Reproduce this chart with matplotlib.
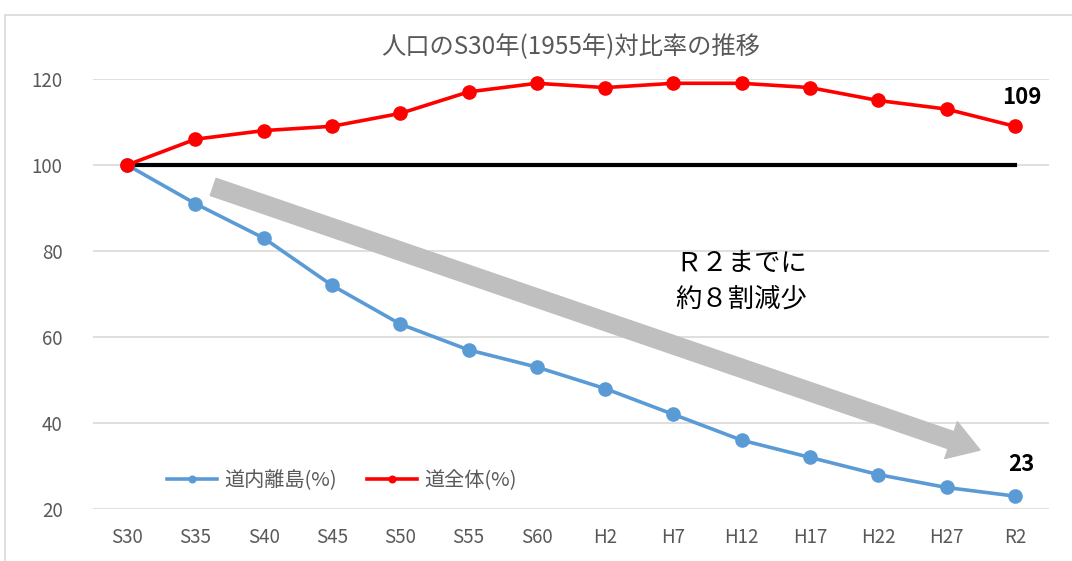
import matplotlib
matplotlib.use("Agg")
import matplotlib.pyplot as plt
from matplotlib.patches import Rectangle

plt.rcParams["font.family"] = ["Liberation Sans Narrow", "Noto Sans CJK JP", "DejaVu Sans"]

CATEGORIES = ["S30", "S35", "S40", "S45", "S50", "S55", "S60",
              "H2", "H7", "H12", "H17", "H22", "H27", "R2"]
ISLANDS = [100, 91, 83, 72, 63, 57, 53, 48, 42, 36, 32, 28, 25, 23]
HOKKAIDO = [100, 106, 108, 109, 112, 117, 119, 118, 119, 119, 118, 115, 113, 109]
BASELINE = 100
Y_TICKS = [20, 40, 60, 80, 100, 120]

TITLE = "人口のS30年(1955年)対比率の推移"
LABEL_ISLANDS = "道内離島(%)"
LABEL_HOKKAIDO = "道全体(%)"
NOTE = "Ｒ２までに\n約８割減少"
ARROW_FROM = (1.26, 94.9)
ARROW_TO = (12.49, 33.7)

BLUE = "#5B9BD5"
RED = "#FF0000"
GRID = "#D9D9D9"
TEXT = "#595959"
CJK = ["Noto Sans CJK JP", "DejaVu Sans"]

fig = plt.figure(figsize=(10.72, 5.61), dpi=100)
ax = fig.add_axes([0.0868, 0.0927, 0.8917, 0.7665])

# chart frame
fig.patches.append(Rectangle((0.005, -0.05), 1.2, 1.023, transform=fig.transFigure,
                             fill=False, edgecolor="#D9D9D9", linewidth=1.2))

x = list(range(len(CATEGORIES)))

ax.annotate("", xy=ARROW_TO, xytext=ARROW_FROM,
            arrowprops=dict(arrowstyle="simple,head_length=1.1,head_width=1.4,tail_width=0.65",
                            mutation_scale=20, color="#BFBFBF", shrinkA=0, shrinkB=0),
            zorder=2)

ax.plot([x[0], x[-1]], [BASELINE, BASELINE], color="black", linewidth=3, zorder=3)
ax.plot(x, ISLANDS, color=BLUE, linewidth=2.6, marker="o", markersize=9.5,
        label=LABEL_ISLANDS, zorder=4, clip_on=False)
ax.plot(x, HOKKAIDO, color=RED, linewidth=2.6, marker="o", markersize=9.5,
        label=LABEL_HOKKAIDO, zorder=5, clip_on=False)

ax.text(x[-1] + 0.1, HOKKAIDO[-1] + 4.0, str(HOKKAIDO[-1]), ha="center", va="bottom",
        fontsize=16, fontweight="bold", color="black")
ax.text(x[-1] + 0.1, ISLANDS[-1] + 4.6, str(ISLANDS[-1]), ha="center", va="bottom",
        fontsize=16, fontweight="bold", color="black")

ax.text(9.0, 73, NOTE, ha="center", va="center", fontsize=19, family=CJK,
        color="black", linespacing=1.4)

ax.set_xlim(-0.5, len(CATEGORIES) - 0.5)
ax.set_ylim(20, 120)
ax.set_yticks(Y_TICKS)
ax.set_xticks(x)
ax.set_xticklabels(CATEGORIES)
ax.grid(axis="y", color=GRID, linewidth=1.2, zorder=0)
ax.set_axisbelow(True)
ax.tick_params(length=0, labelsize=13.5, labelcolor=TEXT)
ax.tick_params(axis="x", pad=13)
ax.tick_params(axis="y", pad=22)
for spine in ax.spines.values():
    spine.set_visible(False)

ax.set_title(TITLE, fontsize=17.5, color=TEXT, family=["Liberation Sans Narrow"] + CJK, pad=18)

leg = ax.legend(loc="center left", bbox_to_anchor=(0.058, 0.067), ncol=2, frameon=False,
                prop={"family": CJK, "size": 14.5}, labelcolor=TEXT, handlelength=2.5,
                columnspacing=1.5, markerscale=0.5, handletextpad=0.35)

fig.savefig("out.png", dpi=100)
